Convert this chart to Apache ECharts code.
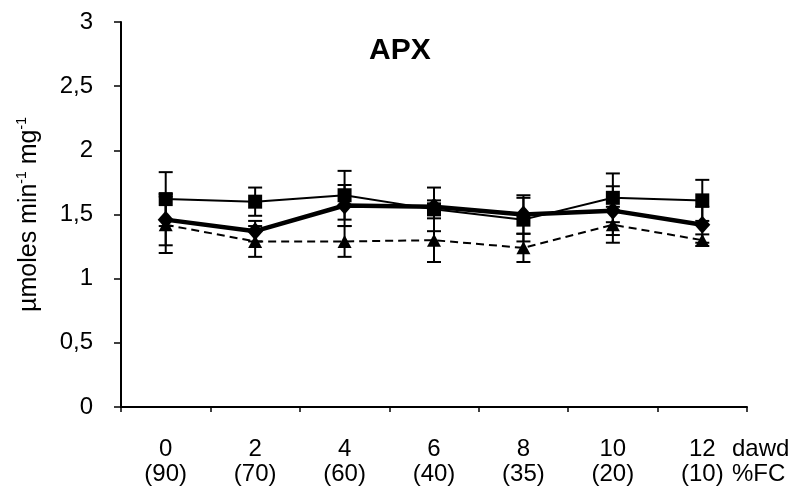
<!DOCTYPE html>
<html><head><meta charset="utf-8">
<script src="https://cdn.jsdelivr.net/npm/echarts@6/dist/echarts.min.js"></script>
<style>html,body{margin:0;padding:0;background:#fff}#c{width:806px;height:493px}</style>
</head><body><div id="c"></div>
<script>
const days = ['0','2','4','6','8','10','12'];
const fc = ['(90)','(70)','(60)','(40)','(35)','(20)','(10)'];
const yTicks = [0, 0.5, 1, 1.5, 2, 2.5, 3];
// squares (thin solid)
const sqVals = [1.62, 1.60, 1.65, 1.54, 1.46, 1.63, 1.61];
const sqErr  = [0.21, 0.11, 0.19, 0.17, 0.17, 0.19, 0.16];
// diamonds (thick solid)
const diVals = [1.46, 1.37, 1.57, 1.56, 1.50, 1.53, 1.42];
const diErr  = [0.20, 0.08, 0.16, 0.05, 0.15, 0.19, 0.14];
// triangles (dashed)
const trVals = [1.42, 1.29, 1.29, 1.30, 1.24, 1.42, 1.30];
const trErr  = [0.22, 0.12, 0.12, 0.17, 0.11, 0.14, 0.045];

const FONT = 'Liberation Sans, Arial, sans-serif';
const cats = days.map((d, i) => d + '\n' + fc[i]);

function errSeries(vals, errs) {
  return {
    type: 'custom', silent: true, z: 1,
    data: vals.map((v, i) => [i, v, errs[i]]),
    renderItem: (params, api) => {
      const x = api.value(0), v = api.value(1), e = api.value(2);
      const top = api.coord([x, v + e]);
      const bot = api.coord([x, v - e]);
      const hw = 7;
      const style = { stroke: '#000', lineWidth: 2 };
      return { type: 'group', children: [
        { type: 'line', shape: { x1: top[0], y1: top[1], x2: bot[0], y2: bot[1] }, style },
        { type: 'line', shape: { x1: top[0] - hw, y1: top[1], x2: top[0] + hw, y2: top[1] }, style },
        { type: 'line', shape: { x1: bot[0] - hw, y1: bot[1], x2: bot[0] + hw, y2: bot[1] }, style }
      ]};
    }
  };
}

const chart = echarts.init(document.getElementById('c'));
chart.setOption({
  animation: false,
  backgroundColor: '#fff',
  title: {
    text: 'APX', left: 364, top: 31,
    textStyle: { fontFamily: FONT, fontWeight: 'bold', fontSize: 30, color: '#000' }
  },
  grid: { left: 121, right: 59, top: 22, bottom: 86 },
  xAxis: {
    type: 'category', data: cats, boundaryGap: true,
    axisLine: { lineStyle: { color: '#000', width: 2 } },
    axisTick: { show: true, length: 5, lineStyle: { color: '#000', width: 1.5 } },
    axisLabel: { color: '#000', fontFamily: FONT, fontSize: 24, lineHeight: 25, margin: 30, interval: 0 },
    name: 'dawd\n%FC', nameLocation: 'end', nameGap: -15,
    nameTextStyle: { color: '#000', fontFamily: FONT, fontSize: 24, lineHeight: 25, align: 'left', verticalAlign: 'top', padding: [30, 0, 0, 0] }
  },
  yAxis: {
    type: 'value', min: 0, max: 3, interval: 0.5,
    splitLine: { show: false },
    axisLine: { show: true, lineStyle: { color: '#000', width: 2 } },
    axisTick: { show: true, length: 7, lineStyle: { color: '#000', width: 1.5 } },
    axisLabel: { color: '#000', fontFamily: FONT, fontSize: 24, margin: 28,
      formatter: v => String(v).replace('.', ',') },
    name: '{n|µmoles min}{s|-1}{n| mg}{s|-1}', nameLocation: 'middle', nameGap: 78,
    nameTextStyle: {
      rich: {
        n: { fontFamily: FONT, fontSize: 25, color: '#000', lineHeight: 28 },
        s: { fontFamily: FONT, fontSize: 14, color: '#000', lineHeight: 14, verticalAlign: 'top' }
      }
    }
  },
  series: [
    errSeries(sqVals, sqErr),
    errSeries(diVals, diErr),
    errSeries(trVals, trErr),
    { type: 'line', data: trVals, symbol: 'triangle', symbolSize: [14, 13], z: 3,
      lineStyle: { color: '#000', width: 2, type: [8, 5] }, itemStyle: { color: '#000' } },
    { type: 'line', data: sqVals, symbol: 'rect', symbolSize: 14, z: 4,
      lineStyle: { color: '#000', width: 2 }, itemStyle: { color: '#000' } },
    { type: 'line', data: diVals, symbol: 'diamond', symbolSize: [16, 18], z: 5,
      lineStyle: { color: '#000', width: 4.5 }, itemStyle: { color: '#000' } }
  ]
});
</script>
</body></html>
